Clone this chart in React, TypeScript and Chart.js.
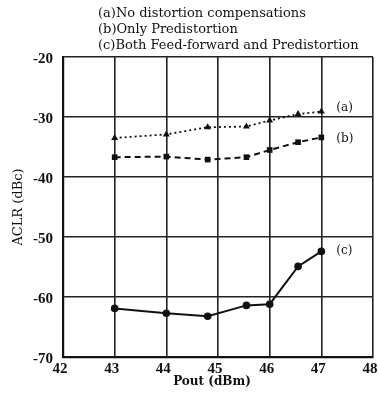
import React, { useEffect, useRef } from "react";
import { Chart, registerables } from "chart.js";
Chart.register(...registerables);

const poutA = [43, 44, 44.8, 45.55, 46, 46.55, 47];
const aclrA = [-33.5, -32.9, -31.7, -31.6, -30.6, -29.5, -29.1];
const poutB = [43, 44, 44.8, 45.55, 46, 46.55, 47];
const aclrB = [-36.7, -36.6, -37.1, -36.7, -35.5, -34.2, -33.4];
const poutC = [43, 44, 44.8, 45.55, 46, 46.55, 47];
const aclrC = [-61.9, -62.7, -63.2, -61.4, -61.2, -54.9, -52.4];

const titleLines = [
  "(a)No distortion compensations",
  "(b)Only Predistortion",
  "(c)Both Feed-forward and Predistortion",
];
const seriesLabels = ["(a)", "(b)", "(c)"];
const xTitle = "Pout (dBm)";
const yTitle = "ACLR (dBc)";
const xMin = 42, xMax = 48, xStep = 1;
const yMin = -70, yMax = -20, yStep = 10;

const SERIF = "'DejaVu Serif', 'Liberation Serif', serif";
const TICKSERIF = "'Liberation Serif', 'DejaVu Serif', serif";

export default function App() {
  const ref = useRef<HTMLCanvasElement | null>(null);
  useEffect(() => {
    document.body.style.margin = "0";
    const ctx = ref.current!.getContext("2d")!;
    const toPts = (xs: number[], ys: number[]) => xs.map((x, i) => ({ x, y: ys[i] }));
    const textPlugin = {
      id: "texts",
      afterDraw(chart: any) {
        const c = chart.ctx;
        const xs = chart.scales.x;
        const ys = chart.scales.y;
        const area = chart.chartArea;
        c.save();
        c.fillStyle = "#111";
        c.font = `13px ${SERIF}`;
        c.textAlign = "left";
        c.textBaseline = "middle";
        titleLines.forEach((t, i) => c.fillText(t, 98, 14 + i * 16));
        const lasts = [
          { x: poutA[poutA.length - 1], y: aclrA[aclrA.length - 1], dy: -4 },
          { x: poutB[poutB.length - 1], y: aclrB[aclrB.length - 1], dy: 1 },
          { x: poutC[poutC.length - 1], y: aclrC[aclrC.length - 1], dy: -1 },
        ];
        c.font = `12px ${SERIF}`;
        lasts.forEach((p, i) => {
          c.fillText(seriesLabels[i], xs.getPixelForValue(p.x) + 15, ys.getPixelForValue(p.y) + p.dy);
        });
        c.font = `bold 12px ${SERIF}`;
        c.textAlign = "center";
        c.fillText(xTitle, 212, 382);
        c.font = `13px ${SERIF}`;
        c.translate(19, (area.top + area.bottom) / 2);
        c.rotate(-Math.PI / 2);
        c.fillText(yTitle, 0, 0);
        c.restore();
      },
    };
    const chart = new Chart(ctx, {
      type: "line",
      data: {
        datasets: [
          {
            label: seriesLabels[0],
            data: toPts(poutA, aclrA),
            borderColor: "#111",
            backgroundColor: "#111",
            borderWidth: 1.8,
            borderDash: [2, 3],
            pointStyle: "triangle",
            pointRadius: 4,
            pointBorderWidth: 0,
            fill: false,
          },
          {
            label: seriesLabels[1],
            data: toPts(poutB, aclrB),
            borderColor: "#111",
            backgroundColor: "#111",
            borderWidth: 2,
            borderDash: [6, 4],
            pointStyle: "rect",
            pointRadius: 4,
            pointBorderWidth: 0,
            fill: false,
          },
          {
            label: seriesLabels[2],
            data: toPts(poutC, aclrC),
            borderColor: "#111",
            backgroundColor: "#111",
            borderWidth: 2,
            pointStyle: "circle",
            pointRadius: 3.8,
            pointBorderWidth: 0,
            fill: false,
          },
        ],
      },
      options: {
        responsive: false,
        animation: false,
        layout: { padding: { top: 57, right: 5, left: 0, bottom: 0 } },
        plugins: { legend: { display: false }, tooltip: { enabled: false }, title: { display: false } },
        scales: {
          x: {
            type: "linear",
            min: xMin,
            max: xMax,
            ticks: {
              stepSize: xStep,
              color: "#111",
              font: { family: TICKSERIF, size: 15, weight: "bold" },
              padding: 3,
              labelOffset: -3,
            },
            grid: { color: "#222", lineWidth: 1.6, drawTicks: false },
            border: { color: "#111", width: 2.2 },
            afterFit: (s: any) => { s.height = 53; s.paddingRight = 0; s.paddingLeft = 0; },
          },
          y: {
            type: "linear",
            min: yMin,
            max: yMax,
            ticks: {
              stepSize: yStep,
              color: "#111",
              font: { family: TICKSERIF, size: 15, weight: "bold" },
              padding: 10,
              labelOffset: 2,
            },
            grid: { color: "#222", lineWidth: 1.6, drawTicks: false },
            border: { color: "#111", width: 2.2 },
            afterFit: (s: any) => { s.width = 63; s.paddingTop = 0; s.paddingBottom = 0; },
          },
        },
      },
      plugins: [textPlugin],
    } as any);
    return () => chart.destroy();
  }, []);
  return (
    <div style={{ width: 378, height: 410, background: "#fff" }}>
      <canvas ref={ref} width={378} height={410} />
    </div>
  );
}
